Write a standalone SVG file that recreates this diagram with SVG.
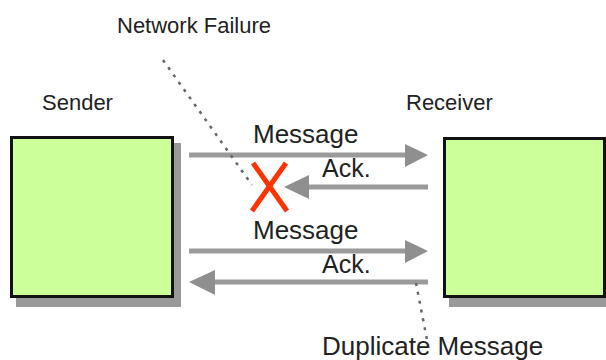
<svg xmlns="http://www.w3.org/2000/svg" width="606" height="360" viewBox="0 0 606 360">
<style>
.lbl{font-family:"Liberation Sans",Arial,sans-serif;fill:#222}
.big{font-size:26px}
.sm{font-size:22px}
.box{fill:#ccff99;stroke:#111;stroke-width:3}
.shadow{fill:#999}
.line{stroke:#9a9a9a;stroke-width:5;fill:none}
.head{fill:#8f8f8f}
.dot{stroke:#666;stroke-width:2.5;stroke-dasharray:3 6;fill:none}
.x{stroke:#ff3300;stroke-width:5;stroke-linecap:butt}
</style>
<rect width="606" height="360" fill="#fff"/>
<g id="sender">
<rect class="shadow" x="16" y="143" width="165" height="164"/>
<rect class="box" x="11.5" y="137.5" width="161" height="159"/>
<text class="lbl sm" x="42" y="110">Sender</text>
</g>
<g id="receiver">
<rect class="shadow" x="449" y="143" width="160" height="164"/>
<rect class="box" x="444.5" y="138.5" width="160" height="158"/>
<text class="lbl sm" x="406" y="110">Receiver</text>
</g>
<g id="connectors">
<line class="line" x1="189" y1="155" x2="407" y2="155"/>
<polygon class="head" points="405,144 428,155 405,167"/>
<text class="lbl big" x="253" y="143">Message</text>
<line class="line" x1="428" y1="187" x2="306" y2="187"/>
<polygon class="head" points="309,175 284,187 309,199"/>
<text class="lbl big" x="322" y="177" style="font-size:25px">Ack.</text>
<line class="line" x1="189" y1="251" x2="407" y2="251"/>
<polygon class="head" points="405,240 428,251 405,263"/>
<text class="lbl big" x="253" y="239">Message</text>
<line class="line" x1="428" y1="282" x2="212" y2="282"/>
<polygon class="head" points="215,270 189,282 215,295"/>
<text class="lbl big" x="322" y="273" style="font-size:25px">Ack.</text>
</g>
<g id="network-failure">
<text class="lbl sm" x="117" y="33">Network Failure</text>
<line class="dot" x1="163" y1="60" x2="252" y2="185"/>
<line class="x" x1="253" y1="163" x2="287" y2="211"/>
<line class="x" x1="286" y1="163" x2="252" y2="211"/>
</g>
<g id="duplicate-message">
<line class="dot" x1="416" y1="283" x2="428" y2="345"/>
<text class="lbl big" x="322" y="355">Duplicate Message</text>
</g>
</svg>
